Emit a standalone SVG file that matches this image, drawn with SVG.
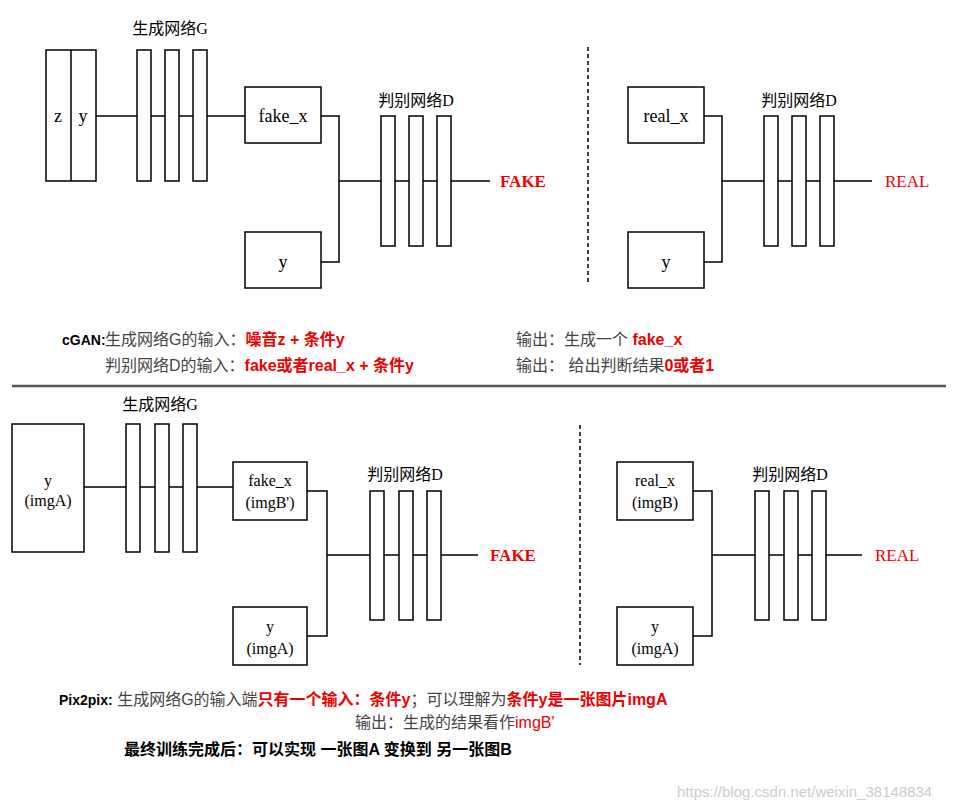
<svg xmlns="http://www.w3.org/2000/svg" width="961" height="810" viewBox="0 0 961 810">
<style>
.b{fill:#fff;stroke:#000;stroke-width:1.5}
.bar{fill:#fff;stroke:#000;stroke-width:1.5}
.l{stroke:#000;stroke-width:1.5;fill:none}
.d{stroke:#000;stroke-width:1.5;stroke-dasharray:4 3;fill:none}
.t{font-family:"Liberation Serif","Noto Sans CJK SC",serif;font-size:18px;text-anchor:middle;fill:#000}
.ti{font-family:"Liberation Serif","Noto Sans CJK SC",serif;font-size:16px;text-anchor:middle;fill:#000}
.f{font-family:"Liberation Serif",serif;font-size:17px;fill:#e00;font-weight:bold}
.r{font-family:"Liberation Serif",serif;font-size:17px;fill:#e00}
.c{font-family:"Liberation Sans","Noto Sans CJK SC",sans-serif;font-size:16px;fill:#444}
.red{fill:#e00;font-weight:bold}
</style>
<g id="connectors">
<path class="l" d="M96 116H245M321 116H339V262H321M339 181H490"/>
<path class="l" d="M704 116H722V262H704M722 181H872"/>
<path class="l" d="M84 487H233M307 491H327V636H307M327 555H478"/>
<path class="l" d="M693 491H712V636H693M712 555H862"/>
<path class="d" d="M588 47V285M580 425V665"/>
<path d="M12 386H946" stroke="#555" stroke-width="2.5"/>
</g>
<g id="cgan_input"><rect class="b" x="46" y="50" width="50" height="131"/><path class="l" d="M71 50V181"/>
<text class="t" x="58" y="122">z</text><text class="t" x="83" y="122">y</text></g>
<g id="cgan_G"><text class="ti" x="170" y="34">生成网络G</text>
<rect class="bar" x="137" y="50" width="14" height="131"/><rect class="bar" x="165" y="50" width="14" height="131"/><rect class="bar" x="193" y="50" width="14" height="131"/></g>
<g id="cgan_fake"><rect class="b" x="245" y="87" width="76" height="56"/><text class="t" x="283" y="122">fake_x</text></g>
<g id="cgan_y1"><rect class="b" x="245" y="232" width="76" height="56"/><text class="t" x="283" y="268">y</text></g>
<g id="cgan_D1"><text class="ti" x="416" y="106">判别网络D</text>
<rect class="bar" x="381" y="116" width="14" height="130"/><rect class="bar" x="409" y="116" width="14" height="130"/><rect class="bar" x="437" y="116" width="14" height="130"/>
<text class="f" x="500" y="187">FAKE</text></g>
<g id="cgan_real"><rect class="b" x="628" y="87" width="76" height="56"/><text class="t" x="666" y="122">real_x</text></g>
<g id="cgan_y2"><rect class="b" x="628" y="232" width="76" height="56"/><text class="t" x="666" y="268">y</text></g>
<g id="cgan_D2"><text class="ti" x="799" y="106">判别网络D</text>
<rect class="bar" x="764" y="116" width="14" height="130"/><rect class="bar" x="792" y="116" width="14" height="130"/><rect class="bar" x="820" y="116" width="14" height="130"/>
<text class="r" x="885" y="187">REAL</text></g>
<g id="cgan_text" class="c">
<text x="62" y="345"><tspan fill="#000" font-weight="bold" font-size="14">cGAN:</tspan><tspan x="105">生成网络G的输入：</tspan><tspan class="red">噪音z + 条件y</tspan><tspan x="516">输出：生成一个 </tspan><tspan class="red">fake_x</tspan></text>
<text x="105" y="371">判别网络D的输入：<tspan class="red">fake或者real_x + 条件y</tspan><tspan x="516">输出：  给出判断结果</tspan><tspan class="red">0或者1</tspan></text>
</g>
<g id="p_input"><rect class="b" x="12" y="424" width="72" height="128"/><text class="ti" x="48" y="486">y</text><text class="ti" x="48" y="506">(imgA)</text></g>
<g id="p_G"><text class="ti" x="160" y="410">生成网络G</text>
<rect class="bar" x="126" y="424" width="14" height="128"/><rect class="bar" x="155" y="424" width="14" height="128"/><rect class="bar" x="183" y="424" width="14" height="128"/></g>
<g id="p_fake"><rect class="b" x="233" y="462" width="74" height="58"/><text class="ti" x="270" y="486">fake_x</text><text class="ti" x="270" y="508">(imgB')</text></g>
<g id="p_y1"><rect class="b" x="233" y="607" width="74" height="58"/><text class="ti" x="270" y="632">y</text><text class="ti" x="270" y="654">(imgA)</text></g>
<g id="p_D1"><text class="ti" x="405" y="480">判别网络D</text>
<rect class="bar" x="370" y="491" width="14" height="129"/><rect class="bar" x="399" y="491" width="14" height="129"/><rect class="bar" x="427" y="491" width="14" height="129"/>
<text class="f" x="490" y="561">FAKE</text></g>
<g id="p_real"><rect class="b" x="617" y="462" width="76" height="58"/><text class="ti" x="655" y="486">real_x</text><text class="ti" x="655" y="508">(imgB)</text></g>
<g id="p_y2"><rect class="b" x="617" y="607" width="76" height="58"/><text class="ti" x="655" y="632">y</text><text class="ti" x="655" y="654">(imgA)</text></g>
<g id="p_D2"><text class="ti" x="790" y="480">判别网络D</text>
<rect class="bar" x="755" y="491" width="14" height="129"/><rect class="bar" x="784" y="491" width="14" height="129"/><rect class="bar" x="812" y="491" width="14" height="129"/>
<text class="r" x="875" y="561">REAL</text></g>
<g id="p_text" class="c">
<text x="59" y="705"><tspan fill="#000" font-weight="bold" font-size="14">Pix2pix:</tspan> 生成网络G的输入端<tspan class="red">只有一个输入：条件y</tspan>；可以理解为<tspan class="red">条件y是一张图片imgA</tspan></text>
<text x="355" y="728">输出：生成的结果看作<tspan fill="#e00">imgB'</tspan></text>
<text x="124" y="755" fill="#000" font-weight="bold">最终训练完成后：可以实现 一张图A 变换到 另一张图B</text>
<text x="677" y="797" fill="#ccc" font-size="15">https://blog.csdn.net/weixin_38148834</text>
</g>
</svg>
